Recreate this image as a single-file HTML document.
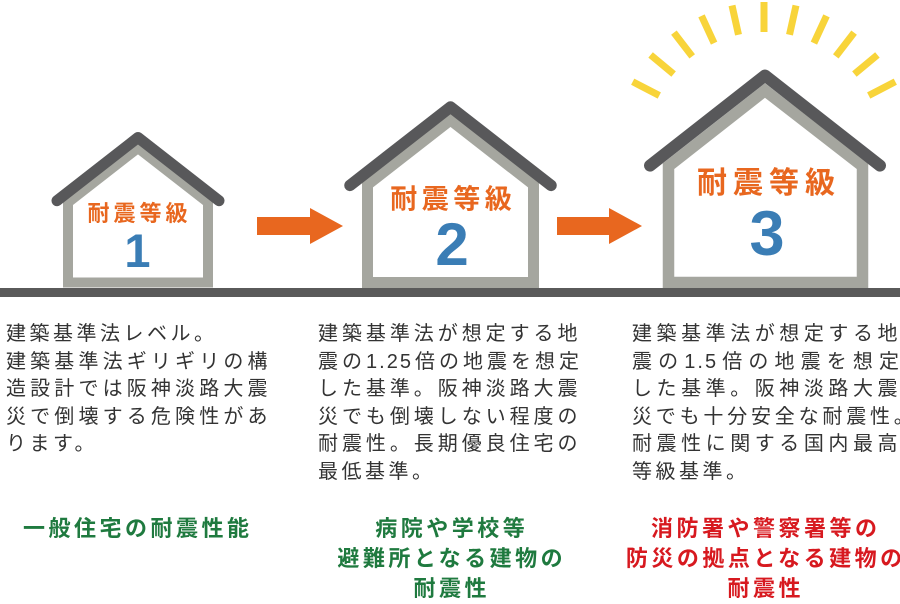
<!DOCTYPE html>
<html><head><meta charset="utf-8"><style>
html,body{margin:0;padding:0;background:#fff;}
body{width:900px;height:600px;position:relative;overflow:hidden;}
svg{position:absolute;left:0;top:0;}
.d{position:absolute;font-family:"Liberation Sans","Noto Sans CJK JP",sans-serif;font-size:20px;line-height:27.5px;color:#333;letter-spacing:3.5px;}
.d div{white-space:normal;}
.j{text-align:justify;text-align-last:justify;}
.t{letter-spacing:2px;}
.nw{white-space:nowrap !important;letter-spacing:3.8px;}
.b{position:absolute;font-family:"Liberation Sans","Noto Sans CJK JP",sans-serif;font-size:22px;line-height:30px;font-weight:bold;letter-spacing:3.5px;}
.c{text-align:center;padding-left:3.5px;box-sizing:border-box;white-space:nowrap;}
.g{color:#1f7a3f;}
.r{color:#d7191f;}
</style></head><body>
<svg width="900" height="600" viewBox="0 0 900 600">
  <g stroke="#f8d43a" stroke-width="7" stroke-linecap="butt">
    <line x1="659.3" y1="95.5" x2="632.7" y2="81.7"/>
    <line x1="673.6" y1="74.1" x2="650.6" y2="54.9"/>
    <line x1="692.2" y1="56.4" x2="673.9" y2="32.6"/>
    <line x1="714.1" y1="43.1" x2="701.5" y2="15.9"/>
    <line x1="738.5" y1="34.8" x2="732.0" y2="5.5"/>
    <line x1="764" y1="32" x2="764" y2="2"/>
    <line x1="789.5" y1="34.8" x2="796.0" y2="5.5"/>
    <line x1="813.9" y1="43.1" x2="826.5" y2="15.9"/>
    <line x1="835.8" y1="56.4" x2="854.1" y2="32.6"/>
    <line x1="854.4" y1="74.1" x2="877.4" y2="54.9"/>
    <line x1="868.7" y1="95.5" x2="895.3" y2="81.7"/>
  </g>
  <polygon points="138,148 68,202.6 68,282.5 208,282.5 208,202.6" fill="#fff" stroke="#a5a69f" stroke-width="10" stroke-linejoin="miter"/>
  <polygon points="450.5,120 367.5,184.7 367.5,282.5 533.5,282.5 533.5,184.7" fill="#fff" stroke="#a5a69f" stroke-width="11" stroke-linejoin="miter"/>
  <polygon points="765,90.5 668.5,166.2 668.5,282.5 862.5,282.5 862.5,166.2" fill="#fff" stroke="#a5a69f" stroke-width="11.5" stroke-linejoin="miter"/>
  <polyline points="57,200.7 138,137.5 219,200.7" fill="none" stroke="#58585a" stroke-width="11" stroke-linecap="round" stroke-linejoin="round"/>
  <polyline points="350,185.4 450.5,107 551,185.4" fill="none" stroke="#58585a" stroke-width="11.5" stroke-linecap="round" stroke-linejoin="round"/>
  <polyline points="650,165.6 765,75.5 880,165.6" fill="none" stroke="#58585a" stroke-width="12" stroke-linecap="round" stroke-linejoin="round"/>
  <rect x="0" y="288" width="900" height="9" fill="#5a5a5a"/>
  <polygon points="257,217 310,217 310,208 343,226 310,244 310,235 257,235" fill="#e8671f"/>
  <polygon points="557,217 609,217 609,208 642,226 609,244 609,235 557,235" fill="#e8671f"/>
  <g font-family="Liberation Sans, Noto Sans CJK JP, sans-serif" font-weight="bold" text-anchor="middle">
    <text x="139.5" y="221" font-size="22" letter-spacing="4" fill="#e8671f">耐震等級</text>
    <text x="453.25" y="208.5" font-size="27" letter-spacing="4.5" fill="#e8671f">耐震等級</text>
    <text x="769" y="193" font-size="30" letter-spacing="6" fill="#e8671f">耐震等級</text>
    <text x="137.5" y="267" font-size="47" fill="#3a7db5">1</text>
    <text x="452" y="265" font-size="60" fill="#3a7db5">2</text>
    <text x="767" y="255" font-size="63" fill="#3a7db5">3</text>
  </g>
</svg>

<div class="d" style="left:6px;top:321px;width:265px;">
  <div>建築基準法レベル。</div>
  <div class="j">建築基準法ギリギリの構</div>
  <div class="j">造設計では阪神淡路大震</div>
  <div class="j">災で倒壊する危険性があ</div>
  <div>ります。</div>
</div>

<div class="d" style="left:318px;top:321px;width:263px;">
  <div class="j">建築基準法が想定する地</div>
  <div class="j t">震の1.25倍の地震を想定</div>
  <div class="j">した基準。阪神淡路大震</div>
  <div class="j">災でも倒壊しない程度の</div>
  <div class="j">耐震性。長期優良住宅の</div>
  <div>最低基準。</div>
</div>

<div class="d" style="left:632px;top:321px;width:269px;">
  <div class="j">建築基準法が想定する地</div>
  <div class="j t">震の1.5倍の地震を想定</div>
  <div class="j">した基準。阪神淡路大震</div>
  <div class="nw">災でも十分安全な耐震性。</div>
  <div class="j">耐震性に関する国内最高</div>
  <div>等級基準。</div>
</div>

<div class="b g" style="left:23px;top:514px;white-space:nowrap;">一般住宅の耐震性能</div>

<div class="b g c" style="left:300px;top:514px;width:300px;">
  <div>病院や学校等</div>
  <div>避難所となる建物の</div>
  <div>耐震性</div>
</div>

<div class="b r c" style="left:614px;top:514px;width:300px;">
  <div>消防署や警察署等の</div>
  <div>防災の拠点となる建物の</div>
  <div>耐震性</div>
</div>
</body></html>
